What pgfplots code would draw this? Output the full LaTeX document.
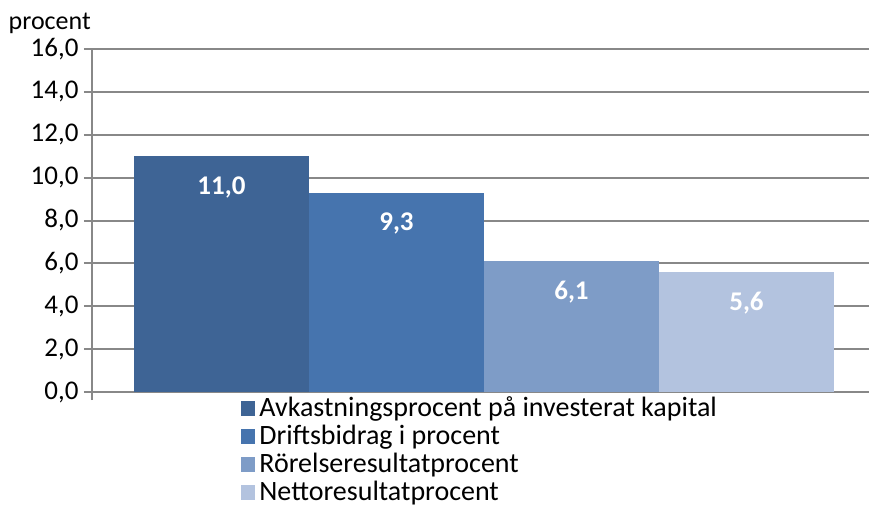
\documentclass[border=0pt]{standalone}
\usepackage{pgfplots}
\pgfplotsset{compat=1.18}
\usepackage{fontspec}
\setmainfont{Carlito}
\definecolor{cA}{HTML}{3E6495}
\definecolor{cB}{HTML}{4674AE}
\definecolor{cC}{HTML}{7E9CC7}
\definecolor{cD}{HTML}{B3C3DF}
\definecolor{gridc}{HTML}{888888}
\begin{document}
\begin{tikzpicture}
\useasboundingbox (-92pt,-117pt) rectangle (777pt,392pt);
\begin{axis}[
  scale only axis,
  width=777pt, height=343pt,
  xmin=-2.24, xmax=2.2,
  ymin=0, ymax=16,
  ytick={0,2,...,16},
  xtick={-2.24},
  xticklabels={},
  ybar=0pt, bar width=1,
  axis x line*=bottom,
  axis y line*=left,
  axis line style={gridc, line width=2pt},
  x axis line style={draw=none},
  every tick/.style={gridc, line width=2pt},
  tick align=outside,
  major tick length=8pt,
  ymajorgrids,
  grid style={gridc, line width=2pt},
  clip=false,
  font=\fontsize{27}{32}\selectfont,
  ticklabel style={font=\fontsize{27}{32}\selectfont},
  yticklabel style={xshift=-2pt, yshift=0pt},
  /pgf/number format/assume math mode=true,
  /pgf/number format/use comma,
  /pgf/number format/fixed,
  /pgf/number format/fixed zerofill,
  /pgf/number format/precision=1,
  nodes near coords,
  every node near coord/.append style={anchor=center, yshift=-31pt, text=white, font=\fontsize{27}{32}\selectfont\bfseries},
  legend style={at={(0.192,0)}, anchor=north west, yshift=-3pt, draw=none, fill=none,
    font=\fontsize{28}{29}\selectfont, row sep=0pt, inner sep=0pt,
    nodes={inner sep=0pt, text height=21pt, text depth=7pt, inner xsep=4pt}},
  legend cell align=left,
  legend image code/.code={\fill[#1, draw=none] (0pt,-6.5pt) rectangle (14pt,8pt);},
]
\addplot[fill=cA, draw=none] coordinates {(0,11.0)};
\addplot[fill=cB, draw=none] coordinates {(0,9.3)};
\addplot[fill=cC, draw=none] coordinates {(0,6.1)};
\addplot[fill=cD, draw=none] coordinates {(0,5.6)};
\legend{Avkastningsprocent på investerat kapital, Driftsbidrag i procent, Rörelseresultatprocent, Nettoresultatprocent}
\node[anchor=base east, inner sep=0pt, font=\fontsize{26}{30}\selectfont] at ([xshift=-1pt,yshift=20pt]rel axis cs:0,1) {procent};
\end{axis}
\end{tikzpicture}
\end{document}
